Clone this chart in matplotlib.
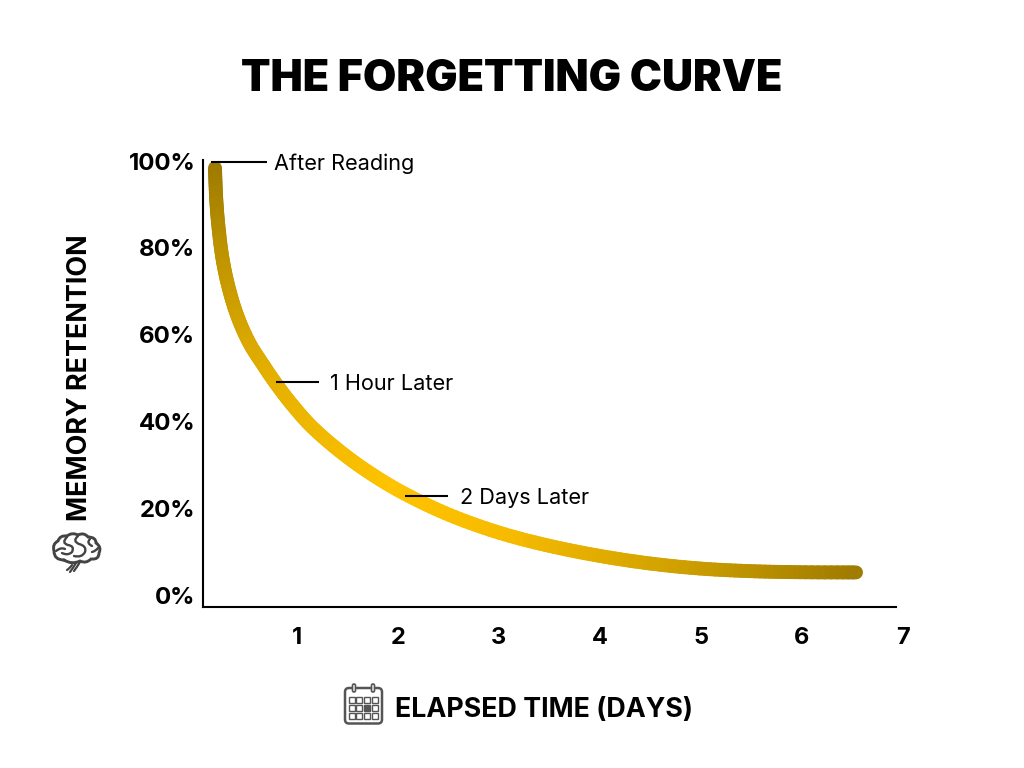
import numpy as np
import matplotlib
matplotlib.use("Agg")
import matplotlib.pyplot as plt
from matplotlib.collections import LineCollection
from matplotlib.colors import LinearSegmentedColormap
from matplotlib.patches import FancyBboxPatch, Rectangle, PathPatch
from matplotlib.path import Path

# values
days = [0.188, 0.198, 0.218, 0.257, 0.317, 0.406, 0.525, 0.663, 0.792, 0.950, 1.149, 1.426, 1.723, 2.069,
        2.515, 3.01, 3.505, 4.0, 4.495, 4.99, 5.485, 5.98, 6.535]
retention = [98.4, 92.2, 85.9, 78.3, 71.4, 64.5, 58.2, 53.1, 48.7, 43.9, 38.7, 33.1, 28.1, 23.3,
             18.4, 14.3, 11.3, 9.0, 7.26, 6.1, 5.5, 5.25, 5.2]
y_ticks = [0, 20, 40, 60, 80, 100]
x_ticks = [1, 2, 3, 4, 5, 6, 7]
callout_labels = ["After Reading", "1 Hour Later", "2 Days Later"]
callout_y = [99.8, 49.0, 22.8]
callout_from = [0.149, 0.79, 2.07]
callout_to = [0.703, 1.218, 2.495]
callout_text_x = [0.772, 1.327, 2.614]

plt.rcParams["font.family"] = ["Inter", "DejaVu Sans"]

fig = plt.figure(figsize=(10.24, 7.68), dpi=100)
W, H = 1024, 768

# scale of the chart in pixels
px_day, px_pct = 101, 4.34
x0_px, y0_px = 196, 595

# the axes reach past the end of the x axis line so the "7" label still gets drawn
left, right, top, bottom = 203, 910, 160, 607
ax = fig.add_axes([left / W, 1 - bottom / H, (right - left) / W, (bottom - top) / H])
ax.patch.set_alpha(0)

for s in ["top", "right"]:
    ax.spines[s].set_visible(False)
for s in ["left", "bottom"]:
    ax.spines[s].set_linewidth(1.5)

ax.set_xticks(x_ticks)
ax.set_xticklabels([str(v) for v in x_ticks], fontsize=17, fontweight="bold")
ax.set_yticks(y_ticks)
ax.set_yticklabels([f"{v}%" for v in y_ticks], fontsize=17.3, fontweight="bold")
ax.tick_params(length=0)
ax.tick_params(axis="x", pad=14.5)
ax.tick_params(axis="y", pad=5.5)

# set after the ticks, set_xticks would widen them otherwise
ax.set_xlim((left - x0_px) / px_day, (right - x0_px) / px_day)
ax.set_ylim((y0_px - bottom) / px_pct, (y0_px - top) / px_pct)
ax.spines["bottom"].set_bounds((left - x0_px) / px_day, (896 - x0_px) / px_day)


# smooth stroke through the read points, short pieces so the colour ramp shows no steps
def smooth_stroke(xs, ys, steps=10):
    pts = np.column_stack([xs, ys])
    pts = np.vstack([pts[0], pts, pts[-1]])
    out = [pts[1]]
    for i in range(1, len(pts) - 2):
        p0, p1, p2, p3 = pts[i - 1], pts[i], pts[i + 1], pts[i + 2]
        c1 = p1 + (p2 - p0) / 6
        c2 = p2 - (p3 - p1) / 6
        for t in np.linspace(0, 1, steps + 1)[1:]:
            out.append((1 - t) ** 3 * p1 + 3 * (1 - t) ** 2 * t * c1 + 3 * (1 - t) * t ** 2 * c2 + t ** 3 * p2)
    return np.array(out)


stroke = smooth_stroke(days, retention)
segs = np.stack([stroke[:-1], stroke[1:]], axis=1)
lengths = np.hypot(np.diff(stroke[:, 0]) * px_day, np.diff(stroke[:, 1]) * px_pct)
frac = np.concatenate([[0], np.cumsum(lengths)[:-1]]) / lengths.sum()

# dark at both ends and bright in the middle
cmap = LinearSegmentedColormap.from_list(
    "gold",
    [(0.0, "#9E7A00"), (0.1, "#BE9300"), (0.25, "#E3AF00"), (0.45, "#FFC300"), (0.6, "#F6BB00"),
     (0.8, "#CFA000"), (1.0, "#A07C00")],
)
lc = LineCollection(segs, colors=cmap(frac), linewidths=10, capstyle="round", joinstyle="round", clip_on=False)
ax.add_collection(lc)

for label, y, x_a, x_b, x_t in zip(callout_labels, callout_y, callout_from, callout_to, callout_text_x):
    ax.plot([x_a, x_b], [y, y], color="black", lw=1.5, clip_on=False, solid_capstyle="butt")
    ax.text(x_t, y, label, fontsize=15.6, va="center_baseline", ha="left")

fig.text(512 / W, 1 - 75 / H, "THE FORGETTING CURVE", fontsize=31, fontweight="black", ha="center", va="center_baseline")
fig.text(80 / W, 1 - 378 / H, "MEMORY RETENTION", fontsize=19.4, fontweight="bold", rotation=90,
         ha="center", va="center", rotation_mode="anchor")
fig.text(395 / W, 1 - 707 / H, "ELAPSED TIME (DAYS)", fontsize=19.3, fontweight="bold", ha="left", va="center_baseline")

# icons, drawn in pixel coordinates on an overlay
ov = fig.add_axes([0, 0, 1, 1])
ov.set_xlim(0, W)
ov.set_ylim(H, 0)
ov.axis("off")
ov.patch.set_alpha(0)

icon = "#555555"
ov.add_patch(FancyBboxPatch((345, 688), 37, 35.5, boxstyle="round,pad=0,rounding_size=4", fc="white", ec=icon, lw=1.8))
for cx in (354, 373):
    ov.add_patch(FancyBboxPatch((cx - 1.5, 684), 3, 8, boxstyle="round,pad=0,rounding_size=1.5", fc="white", ec=icon, lw=1.2))
for r in range(3):
    for c in range(4):
        filled = (r == 1 and c == 2)
        ov.add_patch(Rectangle((348.5 + c * 7.9, 697 + r * 7.9), 6, 6, fc=icon if filled else "white", ec=icon, lw=1))


# brain outline and folds
def squiggle(xy, lw=1.7):
    verts = [xy[0]]
    codes = [Path.MOVETO]
    for i in range(1, len(xy) - 1, 2):
        verts += [xy[i], xy[i + 1]]
        codes += [Path.CURVE3, Path.CURVE3]
    ov.add_patch(PathPatch(Path(verts, codes), fc="none", ec="#444444", lw=lw, capstyle="round"))


squiggle([(64, 560), (54, 560), (54, 551), (52, 544), (58, 541), (60, 535), (67, 536), (72, 532), (78, 535),
          (84, 532), (88, 537), (96, 537), (96, 543), (102, 547), (99, 553), (99, 560), (91, 559),
          (86, 564), (80, 561), (72, 565), (64, 560)], 2.1)
squiggle([(76, 563), (73, 568), (70, 572)], 1.6)
squiggle([(80, 562), (77, 567), (74, 571)], 1.6)
squiggle([(72, 565), (70, 568), (67, 570)], 1.6)
squiggle([(67, 537), (61, 543), (68, 545), (75, 546), (72, 552), (68, 556), (62, 553)])
squiggle([(78, 536), (72, 541), (79, 544), (87, 546), (85, 552), (82, 558), (74, 556)])
squiggle([(56, 551), (61, 547), (65, 549)])
squiggle([(90, 539), (86, 543), (92, 546)])
squiggle([(92, 552), (96, 551), (98, 548)])

fig.savefig("out.png", dpi=100)
